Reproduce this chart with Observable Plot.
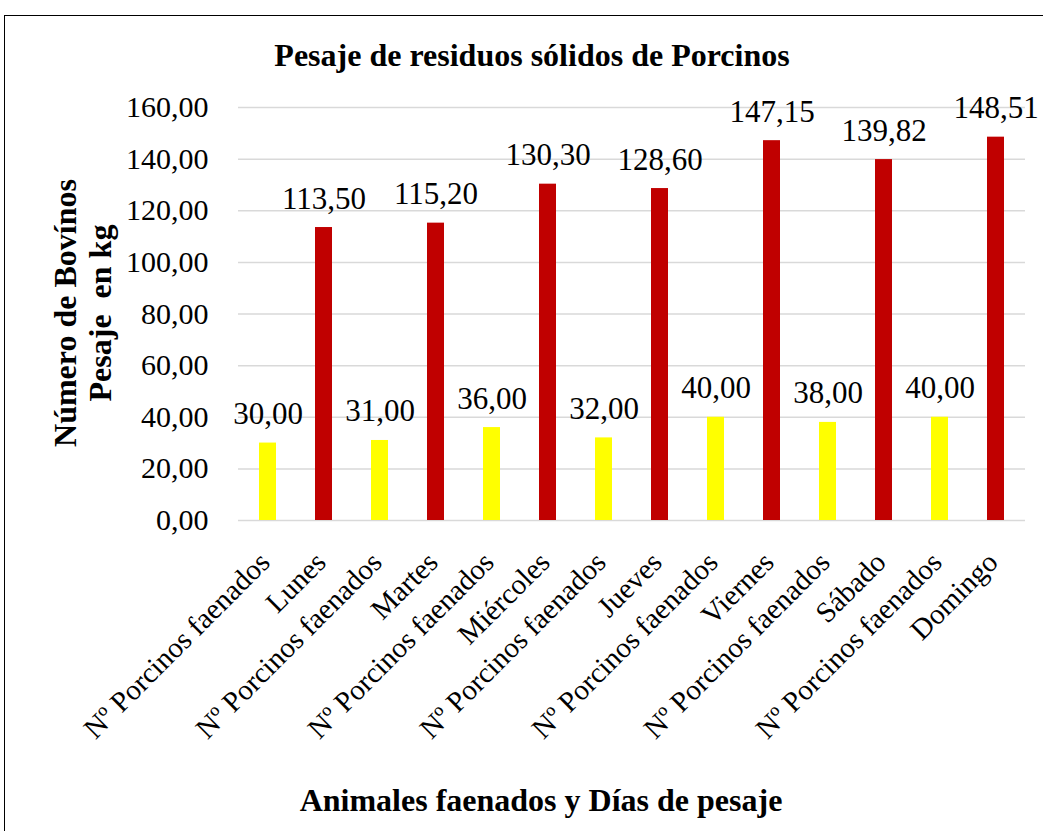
<!DOCTYPE html>
<html>
<head>
<meta charset="utf-8">
<script src="https://cdn.jsdelivr.net/npm/d3@7"></script>
<script src="https://cdn.jsdelivr.net/npm/@observablehq/plot@0.6"></script>
<style>
  html, body { margin: 0; padding: 0; background: #fff; }
  #wrap { position: relative; width: 1043px; height: 831px; overflow: hidden; font-family: "Liberation Serif", "Times New Roman", serif; }
  #frame { position: absolute; left: 4px; top: 15px; width: 1100px; height: 900px; border: 1.5px solid #000; box-sizing: border-box; }
  .t { position: absolute; font-weight: bold; color: #000; white-space: pre; font-size: 32px; line-height: 1; }
  #chart { position: absolute; left: 0; top: 0; }
  #chart svg, #chart svg text { font-family: "Liberation Serif", "Times New Roman", serif !important; }
</style>
</head>
<body>
<div id="wrap">
  <div id="frame"></div>
  <div id="chart"></div>
  <div class="t" id="title" style="left:0;width:1064px;text-align:center;top:39px;">Pesaje de residuos sólidos de Porcinos</div>
  <div class="t" id="xtitle" style="left:0;width:1082px;text-align:center;top:784px;">Animales faenados y Días de pesaje</div>
  <div class="t" id="ytitle" style="left:83px;top:313px;transform:translate(-50%,-50%) rotate(-90deg);text-align:center;line-height:35px;">Número de Bovínos
Pesaje  en kg</div>
</div>
<script>
const categories = ["Nº Porcinos faenados", "Lunes", "Nº Porcinos faenados", "Martes", "Nº Porcinos faenados", "Miércoles", "Nº Porcinos faenados", "Jueves", "Nº Porcinos faenados", "Viernes", "Nº Porcinos faenados", "Sábado", "Nº Porcinos faenados", "Domingo"];
const values = [30.00, 113.50, 31.00, 115.20, 36.00, 130.30, 32.00, 128.60, 40.00, 147.15, 38.00, 139.82, 40.00, 148.51];
const seriesOf = ["porcinos", "pesaje", "porcinos", "pesaje", "porcinos", "pesaje", "porcinos", "pesaje", "porcinos", "pesaje", "porcinos", "pesaje", "porcinos", "pesaje"];
const yTicks = [0, 20, 40, 60, 80, 100, 120, 140, 160];

const data = categories.map((c, i) => ({key: i, label: c, value: values[i], series: seriesOf[i]}));
const fmt = v => v.toFixed(2).replace(".", ",");
const serif = "'Liberation Serif', 'Times New Roman', serif";

const chart = Plot.plot({
  width: 1043,
  height: 831,
  marginTop: 107,
  marginBottom: 311,
  marginLeft: 238,
  marginRight: 18,
  style: {fontFamily: serif, background: "transparent", color: "#000"},
  x: {domain: d3.range(categories.length), paddingInner: 0.69, paddingOuter: 0.345, align: 0.5, label: null, tickFormat: i => categories[i]},
  y: {domain: [0, 160], ticks: yTicks, label: null, tickFormat: fmt},
  color: {domain: ["porcinos", "pesaje"], range: ["#FFFF00", "#C00000"]},
  marks: [
    Plot.ruleY(yTicks, {stroke: "#d9d9d9", strokeWidth: 1.5}),
    Plot.barY(data, {x: "key", y: "value", fill: "series"}),
    Plot.text(data, {x: "key", y: "value", text: d => fmt(d.value), lineAnchor: "bottom", dy: -19, fontSize: 31, fontFamily: serif, fill: "#000"}),
    Plot.axisY({ticks: yTicks, tickFormat: fmt, tickSize: 0, tickPadding: 30, fontSize: 30, fontFamily: serif, label: null}),
    Plot.axisX({tickFormat: i => categories[i], tickSize: 0, tickPadding: 37, dx: -3, tickRotate: -45, fontSize: 29, fontFamily: serif, label: null})
  ]
});
document.getElementById("chart").appendChild(chart);
</script>
</body>
</html>
